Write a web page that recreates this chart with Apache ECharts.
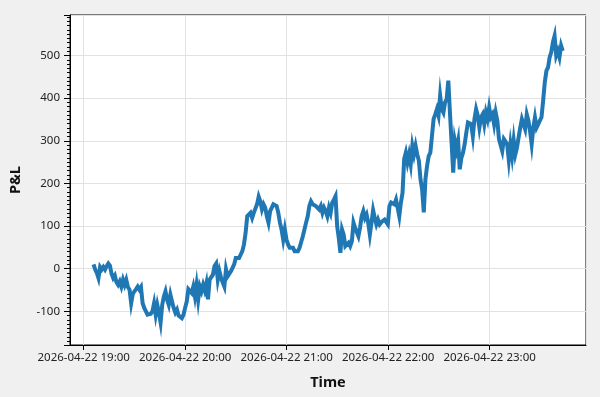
<!DOCTYPE html>
<html><head><meta charset="utf-8">
<script src="https://cdn.jsdelivr.net/npm/echarts@6/dist/echarts.min.js"></script>
<style>html,body{margin:0;padding:0;background:#f0f0f0}#c{width:600px;height:397px}</style>
</head><body><div id="c"></div>
<script>
// sampled P&L series (one sample every 58 s starting at startTime)
const startTime = '2026-04-22T19:05:49';
const stepSeconds = 58;
const pnl = [
  10, -2, -10, -22, 4, -2, 4, -2, 6, 12,
  7, -12, -22, -16, -32, -38, -30, -42, -26, -38,
  -26, -43, -49, -81, -59, -53, -48, -42, -49, -43,
  -81, -92, -89, -108, -112, -106, -100, -81, -108, -85,
  -103, -126, -85, -65, -53, -73, -85, -61, -77, -92,
  -103, -96, -110, -114, -116, -108, -92, -77, -48, -45,
  -57, -42, -65, -38, -73, -42, -53, -38, -51, -34,
  -72, -26, -22, -14, 6, 12, -26, -6, -22, -26,
  -42, -1, -18, -18, -6, 2, 10, 25, 21, 25,
  29, 41, 57, 84, 123, 127, 131, 119, 131, 131,
  151, 169, 158, 139, 151, 143, 123, 108, 135, 131,
  151, 155, 147, 131, 108, 92, 68, 92, 68, 57,
  49, 45, 49, 41, 45, 41, 49, 53, 76, 92,
  108, 123, 147, 158, 151, 155, 147, 151, 139, 147,
  131, 143, 135, 123, 143, 131, 155, 162, 170, 100,
  72, 37, 92, 80, 53, 53, 61, 53, 64, 108,
  96, 100, 76, 96, 123, 135, 119, 127, 108, 80,
  108, 137, 119, 104, 115, 104, 109, 111, 115, 111,
  104, 147, 155, 159, 151, 162, 143, 123, 155, 178,
  257, 272, 249, 268, 245, 288, 268, 288, 268, 253,
  209, 185, 132, 210, 241, 264, 272, 311, 351, 362,
  374, 359, 406, 374, 366, 390, 398, 441, 366, 296,
  225, 300, 280, 300, 233, 260, 272, 292, 319, 343,
  347, 339, 311, 351, 374, 359, 331, 355, 362, 339,
  366, 351, 378, 355, 362, 339, 366, 347, 304, 308,
  276, 304, 298, 292, 255, 292, 264, 301, 268, 284,
  308, 331, 351, 339, 327, 362, 347, 323, 292, 331,
  355, 331, 339, 347, 355, 394, 437, 464, 472, 496,
  508, 531, 546, 500, 511, 496, 523, 511
];
const xRange = ['2026-04-22T18:51:53', '2026-04-22T23:57:00'];
const yRange = [-179, 595];
const xTitle = 'Time';
const yTitle = 'P&L';

const t0 = new Date(startTime).getTime();
const data = pnl.map((v, i) => [t0 + i * stepSeconds * 1000, v]);

const chart = echarts.init(document.getElementById('c'), null, {renderer: 'canvas'});
const font = 'Noto Sans';
chart.setOption({
  animation: false,
  backgroundColor: '#f0f0f0',
  grid: {left: 59, top: 15, right: 14, bottom: 52, show: true, backgroundColor: '#ffffff', borderColor: '#000', borderWidth: 1, containLabel: false},
  xAxis: {
    type: 'time',
    min: new Date(xRange[0]).getTime(),
    max: new Date(xRange[1]).getTime(),
    minInterval: 3600000, maxInterval: 3600000,
    name: xTitle, nameLocation: 'middle', nameGap: 30,
    nameTextStyle: {fontFamily: font, fontWeight: 'bold', fontSize: 14.5, color: '#111'},
    axisLine: {show: true, onZero: false, lineStyle: {color: '#000', width: 1}},
    axisTick: {show: true, length: 5, lineStyle: {color: '#000'}},
    axisLabel: {formatter: '{yyyy}-{MM}-{dd} {HH}:{mm}', fontFamily: font, fontSize: 11.5, color: '#222', margin: 7, showMinLabel: false, showMaxLabel: false, hideOverlap: false},
    splitLine: {show: true, lineStyle: {color: '#e2e2e2', width: 1}}
  },
  yAxis: {
    type: 'value',
    min: yRange[0], max: yRange[1],
    splitNumber: 8,
    name: yTitle, nameLocation: 'middle', nameGap: 47, nameRotate: 90,
    nameTextStyle: {fontFamily: font, fontWeight: 'bold', fontSize: 14.5, color: '#111'},
    axisLine: {show: true, onZero: false, lineStyle: {color: '#000', width: 1}},
    axisTick: {show: true, length: 6, lineStyle: {color: '#000'}},
    minorTick: {show: true, splitNumber: 10, length: 3, lineStyle: {color: '#000'}},
    axisLabel: {fontFamily: font, fontSize: 11.5, color: '#222', margin: 10, showMinLabel: false, showMaxLabel: false},
    splitLine: {show: true, lineStyle: {color: '#e2e2e2', width: 1}}
  },
  series: [{
    type: 'line',
    data: data,
    showSymbol: false,
    symbol: 'none',
    lineStyle: {color: '#1f77b4', width: 4, join: 'miter'},
    itemStyle: {color: '#1f77b4'}
  }]
});
</script></body></html>
